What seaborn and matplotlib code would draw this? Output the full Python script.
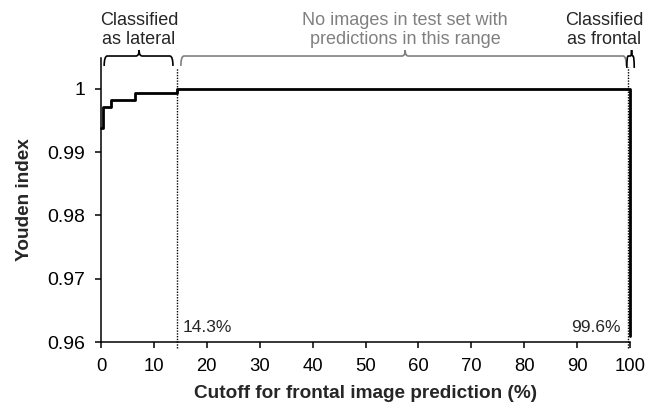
import matplotlib
matplotlib.use("Agg")
import matplotlib.pyplot as plt
import matplotlib.transforms as mtransforms
from matplotlib.path import Path
from matplotlib.patches import PathPatch
import seaborn as sns
import pandas as pd

# Data
cutoff = [0.0, 0.3, 1.8, 6.4, 14.3, 100.0]
youden = [0.9938, 0.9972, 0.9983, 0.9993, 1.0, 0.961]
x_ticks = [0, 10, 20, 30, 40, 50, 60, 70, 80, 90, 100]
y_ticks = [0.96, 0.97, 0.98, 0.99, 1.0]
y_tick_labels = ["0.96", "0.97", "0.98", "0.99", "1"]
thresholds = [14.3, 99.6]
threshold_labels = ["14.3%", "99.6%"]

sns.set_style("ticks")
plt.rcParams["font.family"] = ["Liberation Sans", "DejaVu Sans"]

fig = plt.figure(figsize=(6.62, 4.08), dpi=100)
ax = fig.add_axes([101 / 662, 1 - 342 / 408, 529 / 662, 284 / 408])

df = pd.DataFrame({"cutoff": cutoff, "youden": youden})
sns.lineplot(data=df, x="cutoff", y="youden", ax=ax, color="black",
             linewidth=2.0, drawstyle="steps-post", estimator=None, sort=False)
for ln in ax.get_lines():
    ln.set_clip_on(False)

ax.set_xlim(0, 100)
ax.set_ylim(0.96, 1.0049)
ax.set_xticks(x_ticks)
ax.set_yticks(y_ticks)
ax.set_yticklabels(y_tick_labels)
ax.tick_params(axis="both", length=4, width=1.1, colors="black")
ax.tick_params(axis="x", labelsize=13.3, pad=7.5)
ax.tick_params(axis="y", labelsize=14, pad=7.5)
for s in ["left", "bottom"]:
    ax.spines[s].set_linewidth(1.1)
    ax.spines[s].set_color("black")
sns.despine(ax=ax)

ax.set_xlabel("Cutoff for frontal image prediction (%)", fontsize=13.7,
              fontweight="bold", labelpad=7)
ax.set_ylabel("Youden index", fontsize=13.7, fontweight="bold", labelpad=10)

trans = mtransforms.blended_transform_factory(ax.transData, ax.transAxes)

# Threshold dotted lines
tops = [0.965, 0.968]
for t, top in zip(thresholds, tops):
    ax.plot([t, t], [-0.022, top], transform=trans, color="black",
            linestyle=(0, (1, 1)), linewidth=1.0, clip_on=False)

ax.text(15.5, 0.035, threshold_labels[0], transform=trans, fontsize=12.5,
        ha="left", va="baseline")
ax.text(98.3, 0.035, threshold_labels[1], transform=trans, fontsize=12.5,
        ha="right", va="baseline")


def brace(x0, x1, xm, color, r, yh=1.007, yleg=0.972, ytip=1.028, lw=1.2):
    verts = [
        (x0, yleg), (x0, yh), (x0 + r, yh),
        (xm - r, yh), (xm, yh), (xm, ytip),
        (xm, yh), (xm + r, yh),
        (x1 - r, yh), (x1, yh), (x1, yleg),
    ]
    codes = [
        Path.MOVETO, Path.CURVE3, Path.CURVE3,
        Path.LINETO, Path.CURVE3, Path.CURVE3,
        Path.CURVE3, Path.CURVE3,
        Path.LINETO, Path.CURVE3, Path.CURVE3,
    ]
    p = PathPatch(Path(verts, codes), fill=False, edgecolor=color,
                  linewidth=lw, transform=trans, clip_on=False)
    ax.add_patch(p)


brace(0.6, 13.6, 7.2, "black", 0.6)
brace(15.1, 99.3, 57.5, "#808080", 0.6)
brace(99.4, 100.8, 100.3, "black", 0.25, yleg=0.965)

ty = 1.051
ax.text(7.2, ty, "Classified\nas lateral", transform=trans, fontsize=13,
        ha="center", va="baseline", linespacing=1.15)
ax.text(57.5, ty, "No images in test set with\npredictions in this range",
        transform=trans, fontsize=13, ha="center", va="baseline",
        linespacing=1.15, color="#808080")
ax.text(95.1, ty, "Classified\nas frontal", transform=trans, fontsize=13,
        ha="center", va="baseline", linespacing=1.15)

fig.savefig("out.png", dpi=100)
